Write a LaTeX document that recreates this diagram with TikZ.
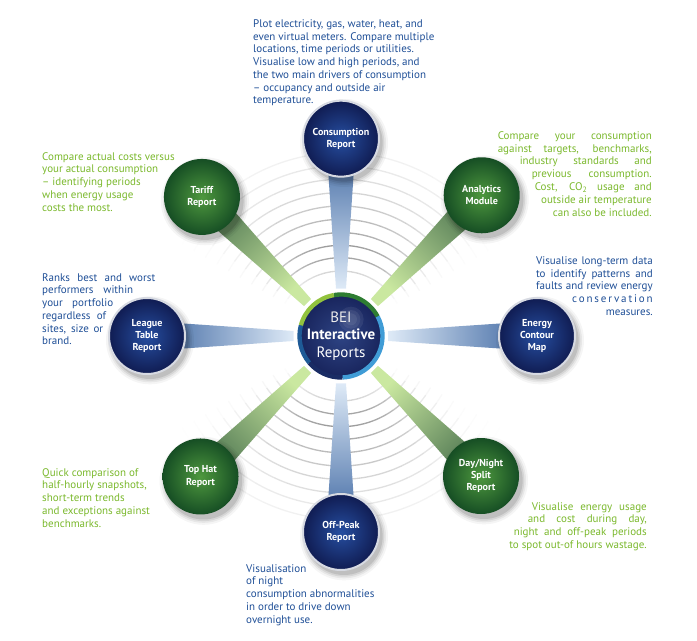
\documentclass[tikz,border=0pt]{standalone}
\usepackage{fontspec}
\setmainfont{PT Sans}
\usetikzlibrary{positioning,calc,backgrounds}
\definecolor{satbluein}{RGB}{38,78,160}
\definecolor{satblueout}{RGB}{16,28,82}
\definecolor{satgreenin}{RGB}{78,152,62}
\definecolor{satgreenout}{RGB}{22,78,36}
\definecolor{hubin}{RGB}{46,68,132}
\definecolor{hubout}{RGB}{24,36,92}
\definecolor{beambluenear}{RGB}{222,234,247}
\definecolor{beambluefar}{RGB}{56,98,158}
\definecolor{beamgreennear}{RGB}{202,232,160}
\definecolor{beamgreenfar}{RGB}{70,110,76}
\definecolor{textblue}{RGB}{30,78,150}
\definecolor{textgreen}{RGB}{122,184,44}
\definecolor{ringdkgreen}{RGB}{46,125,50}
\definecolor{ringltgreen}{RGB}{146,194,62}
\definecolor{ringltblue}{RGB}{64,156,214}
\definecolor{ringnavy}{RGB}{26,44,100}
\definecolor{ringmidblue}{RGB}{30,90,150}
\definecolor{rimgray}{RGB}{215,218,226}

\begin{document}
\begin{tikzpicture}[
    sat/.style={circle, minimum size=2.28cm, inner sep=0pt, align=center, text=white,
                font=\fontsize{8.6}{10.4}\selectfont\bfseries},
    satblue/.style={sat, inner color=satbluein, outer color=satblueout, draw=rimgray, line width=0.6mm},
    satgreen/.style={sat, inner color=satgreenin, outer color=satgreenout},
    hubnode/.style={circle, minimum size=2.25cm, inner sep=0pt, align=center, text=white,
                inner color=hubin, outer color=hubout, font=\fontsize{12.8}{15}\selectfont},
    note/.style={inner sep=0pt, font=\fontsize{9.4}{10.9}\selectfont},
    bluenote/.style={note, text=textblue},
    greennote/.style={note, text=textgreen},
    arcline/.style={line width=0.4mm, draw=gray!70!black},
    ringseg/.style={line width=1.3mm}
]
    \useasboundingbox (-10.23,-9.12) rectangle (10.68,10.08);

    % Hub
    \node[hubnode] (hub) at (0,0) {{\color{white!85!gray}BEI}\\\textbf{Interactive}\\Reports};
    \draw[ringseg, ringdkgreen] (hub.center) ++(100:1.245) arc[start angle=100, end angle=28, radius=1.245];
    \draw[ringseg, ringltblue] (hub.center) ++(28:1.245) arc[start angle=28, end angle=-88, radius=1.245];
    \draw[ringseg, ringnavy] (hub.center) ++(-88:1.245) arc[start angle=-88, end angle=-140, radius=1.245];
    \draw[ringseg, ringmidblue] (hub.center) ++(-140:1.245) arc[start angle=-140, end angle=-195, radius=1.245];
    \draw[ringseg, ringltgreen] (hub.center) ++(165:1.245) arc[start angle=165, end angle=100, radius=1.245];
    \foreach \r in {0.38,0.28,0.18}
        \fill[white, opacity=0.07] ([shift={(0.3,0.5)}]hub.center) circle (\r);

    % Reports
    \node[satblue]  (cons) at (90:5.92)   {Consumption\\Report};
    \node[satgreen] (anly) at (45:5.97)   {Analytics\\Module};
    \node[satblue]  (cont) at (0:5.88)    {Energy\\Contour\\Map};
    \node[satgreen] (dayn) at (-45:5.94)  {Day/Night\\Split\\Report};
    \node[satblue]  (offp) at (-90:5.88)  {Off-Peak\\Report};
    \node[satgreen] (toph) at (-135:5.96) {Top Hat\\Report};
    \node[satblue]  (leag) at (180:5.82)  {League\\Table\\Report};
    \node[satgreen] (tarf) at (135:5.9)   {Tariff\\Report};

    % Descriptions
    \node[bluenote, anchor=north west, align=left] (constxt) at (-2.64,9.5)
        {Plot electricity, gas, water, heat, and\\even virtual meters. Compare multiple\\locations, time periods or utilities.\\Visualise low and high periods, and\\the two main drivers of consumption\\-- occupancy and outside air\\temperature.};
    \node[greennote, anchor=north east, align=right] (anlytxt) at (9.33,6.14)
        {\makebox[4.62cm][s]{Compare your consumption}\\\makebox[4.62cm][s]{against targets, benchmarks,}\\\makebox[3.96cm][s]{industry standards and}\\\makebox[3.6cm][s]{previous consumption.}\\\makebox[3.51cm][s]{Cost, CO\textsubscript{2} usage and}\\outside air temperature\\can also be included.};
    \node[bluenote, anchor=north east, align=right] (conttxt) at (9.36,2.39)
        {\makebox[3.5cm][s]{Visualise long-term data}\\\makebox[3.5cm][s]{to identify patterns and}\\\makebox[3.5cm][s]{faults and review energy}\\{\addfontfeature{LetterSpace=17}conservation}\\measures.};
    \node[greennote, anchor=north east, align=right] (dayntxt) at (9.18,-4.98)
        {\makebox[3.45cm][s]{Visualise energy usage}\\\makebox[3.57cm][s]{and cost during day,}\\\makebox[3.99cm][s]{night and off-peak periods}\\to spot out-of hours wastage.};
    \node[bluenote, anchor=north west, align=left] (offptxt) at (-2.85,-6.84)
        {Visualisation\\of night\\consumption abnormalities\\in order to drive down\\overnight use.};
    \node[greennote, anchor=north west, align=left] (tophtxt) at (-8.97,-3.96)
        {Quick comparison of\\half-hourly snapshots,\\short-term trends\\and exceptions against\\benchmarks.};
    \node[bluenote, anchor=north west, align=left] (leagtxt) at (-8.97,1.89)
        {\makebox[3.39cm][s]{Ranks best and worst}\\\makebox[2.73cm][s]{performers within}\\\makebox[2.13cm][s]{your portfolio}\\\makebox[1.92cm][s]{regardless of}\\\makebox[1.83cm][s]{sites, size or}\\brand.};
    \node[greennote, anchor=north west, align=left] (tarftxt) at (-8.97,5.52)
        {Compare actual costs versus\\your actual consumption\\-- identifying periods\\when energy usage\\costs the most.};

    \begin{scope}[on background layer]
        % Ripples
        \foreach \r/\w in {1.95/0.25,2.35/0.55,2.72/0.6,3.1/0.5,3.5/0.42,3.9/0.34,4.3/0.26,4.7/0.2,5.1/0.14,5.5/0.09}
            \foreach \a in {30,35,...,145}{
                \pgfmathsetmacro\op{max(0,1-((\a+2.5-90)/60)^2)*\w}
                \draw[arcline, opacity=\op] (hub.center) ++(\a:\r) arc[start angle=\a, end angle=\a+5, radius=\r];
                \draw[arcline, opacity=\op] (hub.center) ++(\a+180:\r) arc[start angle=\a+180, end angle=\a+185, radius=\r];
            }
        % Beams
        \foreach \s/\a/\c [evaluate=\a as \sa using \a-90] in {cons/90/blue,anly/45/green,cont/0/blue,dayn/-45/green,offp/-90/blue,toph/-135/green,leag/180/blue,tarf/135/green}{
            \coordinate (n) at ($(hub)!1.42cm!(\s)$);
            \shade[top color=beam\c far, bottom color=beam\c near, shading angle=\sa]
                ($(n)!0.15cm!90:(\s)$) -- ($(\s)!0.45cm!-90:(hub)$) -- ($(\s)!0.45cm!90:(hub)$) -- ($(n)!0.15cm!-90:(\s)$) -- cycle;
        }
        % Shadows
        \foreach \s in {cons,anly,cont,dayn,offp,toph,leag,tarf}
            \foreach \r/\o in {1.32/0.04,1.26/0.06,1.21/0.08,1.16/0.1}
                \fill[black, opacity=\o] ([shift={(0.09,-0.13)}]\s.center) circle (\r);
    \end{scope}
\end{tikzpicture}
\end{document}
